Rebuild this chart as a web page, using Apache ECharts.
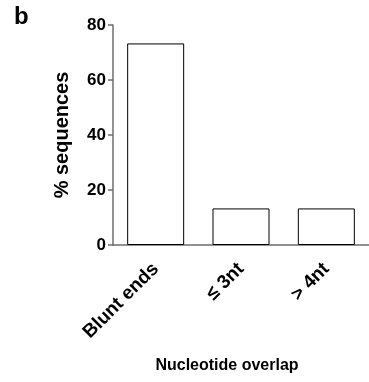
<!DOCTYPE html>
<html><head><meta charset="utf-8">
<script src="https://cdn.jsdelivr.net/npm/echarts@6/dist/echarts.min.js"></script>
<style>html,body{margin:0;padding:0;background:#fff}#c{width:369px;height:382px}</style>
</head><body><div id="c"></div>
<script>
const categories = ['Blunt ends', '≤ 3nt', '> 4nt'];
const values = [73.3, 13.3, 13.3];
const yTicks = [0, 20, 40, 60, 80];

const chart = echarts.init(document.getElementById('c'), null, {renderer: 'canvas'});
const axisColor = '#6e6e6e';
const font = 'Liberation Sans, Arial, sans-serif';
chart.setOption({
  animation: false,
  backgroundColor: '#fff',
  title: [
    {text: 'b', left: 9, top: 0, textStyle: {fontFamily: font, fontWeight: 'bold', fontSize: 24, color: '#000'}},
    {text: 'Nucleotide overlap', left: 222, top: 353, textAlign: 'center', textStyle: {fontFamily: font, fontWeight: 'bold', fontSize: 16, color: '#000'}}
  ],
  grid: {left: 113, top: 25, width: 259, height: 220, containLabel: false},
  xAxis: {
    type: 'category', data: categories,
    axisLine: {lineStyle: {color: axisColor, width: 1.5}},
    axisTick: {alignWithLabel: true, length: 6, lineStyle: {color: axisColor, width: 1.5}},
    axisLabel: {rotate: 45, margin: 21, color: '#000', fontFamily: font, fontWeight: 'bold', fontSize: 19}
  },
  yAxis: {
    type: 'value', min: 0, max: 80, interval: 20,
    name: '% sequences', nameLocation: 'middle', nameGap: 41,
    nameTextStyle: {fontFamily: font, fontWeight: 'bold', fontSize: 20, color: '#000'},
    axisLine: {show: true, lineStyle: {color: axisColor, width: 1.5}},
    axisTick: {show: true, length: 5, lineStyle: {color: axisColor, width: 1.5}},
    splitLine: {show: false},
    axisLabel: {margin: 7, color: '#000', fontFamily: font, fontWeight: 'bold', fontSize: 17,
      customValues: yTicks}
  },
  series: [{
    type: 'bar', data: values, barWidth: 57,
    itemStyle: {color: '#fff', borderColor: '#000', borderWidth: 1}
  }]
});
</script></body></html>
